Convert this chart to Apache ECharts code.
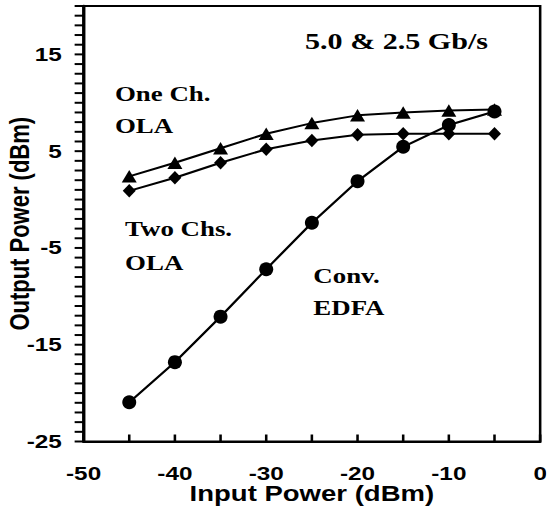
<!DOCTYPE html>
<html><head><meta charset="utf-8">
<script src="https://cdn.jsdelivr.net/npm/echarts@6/dist/echarts.min.js"></script>
<style>
html,body{margin:0;padding:0;background:#fff;overflow:hidden}
#wrap{width:547px;height:527px;overflow:hidden}
#c{width:427.34px;height:527px;transform:scaleX(1.28);transform-origin:0 0}
</style>
</head><body><div id="wrap"><div id="c"></div></div>
<script>
const inputPower = [-45, -40, -35, -30, -25, -20, -15, -10, -5];
const oneChOLA = [2.4, 3.8, 5.3, 6.8, 7.9, 8.7, 9.0, 9.2, 9.3];
const twoChsOLA = [0.9, 2.25, 3.8, 5.2, 6.1, 6.7, 6.8, 6.8, 6.8];
const convEDFA = [-20.95, -16.8, -12.1, -7.2, -2.4, 1.9, 5.45, 7.7, 9.1];
const xTickLabels = [-50, -40, -30, -20, -10, 0];
const yTickLabels = [-25, -15, -5, 5, 15];
const xTickMarks = [-50, -45, -40, -35, -30, -25, -20, -15, -10, -5, 0];
const yTickMarks = Array.from({length: 46}, (_, i) => -25 + i);
const annotations = ['5.0 & 2.5 Gb/s', 'One Ch.', 'OLA', 'Two Chs.', 'OLA', 'Conv.', 'EDFA'];

const SX = 1.28;
const chart = echarts.init(document.getElementById('c'), null, {renderer: 'svg'});
const pair = arr => inputPower.map((x, i) => [x, arr[i]]);
const axisFont = {fontFamily: '"Liberation Sans", Arial, sans-serif', fontWeight: 'bold', color: '#000'};
const serif = '"Liberation Serif", "Times New Roman", serif';
const annPos = [[238.3, 41.3, 23.5], [89.8, 93.7, 21], [89.8, 125.8, 21], [97.7, 228.7, 21], [97.7, 262.8, 21], [244.8, 276, 21], [244.8, 308.3, 21]];

const lineSeries = (name, data, symbol, size) => ({
  name, type: 'line', data: pair(data), symbol, symbolSize: size,
  lineStyle: {color: '#000', width: 2},
  itemStyle: {color: '#000', borderWidth: 0},
  animation: false, z: 3
});

const tickSeries = (data, horizontal) => ({
  type: 'custom', data, silent: true, clip: false, animation: false, z: 4,
  renderItem: (params, api) => {
    const p = api.coord([api.value(0), api.value(1)]);
    const shape = horizontal
      ? {x1: p[0] - 7, y1: p[1], x2: p[0], y2: p[1]}
      : {x1: p[0], y1: p[1], x2: p[0], y2: p[1] - 7};
    return {type: 'line', shape, style: {stroke: '#000', lineWidth: 2}};
  }
});

chart.setOption({
  animation: false,
  backgroundColor: '#fff',
  grid: {left: 65.3, right: 5, top: 6, bottom: 85.5, containLabel: false, outerBoundsMode: 'none',
    show: true, borderColor: '#000', borderWidth: 2, backgroundColor: 'transparent'},
  xAxis: {
    type: 'value', min: -50, max: 0, interval: 5,
    name: 'Input Power (dBm)', nameLocation: 'middle', nameGap: 44, nameMoveOverlap: false,
    nameTextStyle: Object.assign({fontSize: 21.5, lineHeight: 16}, axisFont),
    axisLine: {show: true, onZero: false, lineStyle: {color: '#000', width: 2}},
    axisTick: {show: false},
    axisLabel: Object.assign({fontSize: 19, lineHeight: 15, margin: 24.5, interval: 0,
      formatter: v => xTickLabels.includes(v) ? String(v) : ''}, axisFont),
    splitLine: {show: false}
  },
  yAxis: {
    type: 'value', min: -25, max: 20, interval: 5,
    name: 'Output Power (dBm)', nameLocation: 'middle', nameGap: 39.5, nameMoveOverlap: false,
    nameTextStyle: Object.assign({fontSize: 22}, axisFont),
    axisLine: {show: true, onZero: false, lineStyle: {color: '#000', width: 2.5}},
    axisTick: {show: false},
    axisLabel: Object.assign({fontSize: 19, margin: 17, interval: 0,
      formatter: v => yTickLabels.includes(v) ? String(v) : ''}, axisFont),
    splitLine: {show: false}
  },
  series: [
    tickSeries(xTickMarks.map(v => [v, -25]), false),
    tickSeries(yTickMarks.map(v => [-50, v]), true),
    lineSeries('One Ch. OLA', oneChOLA, 'triangle', [15 / SX, 12.5]),
    lineSeries('Two Chs. OLA', twoChsOLA, 'diamond', [13 / SX, 13.5]),
    lineSeries('Conv. EDFA', convEDFA, 'circle', [14 / SX, 14])
  ],
  graphic: annotations.map((t, i) => ({
    type: 'text', x: annPos[i][0], y: annPos[i][1], z: 10,
    style: {text: t, fill: '#000', fontFamily: serif, fontWeight: 'bold', fontSize: annPos[i][2], align: 'left', verticalAlign: 'middle'}
  }))
});
</script>
</body></html>
